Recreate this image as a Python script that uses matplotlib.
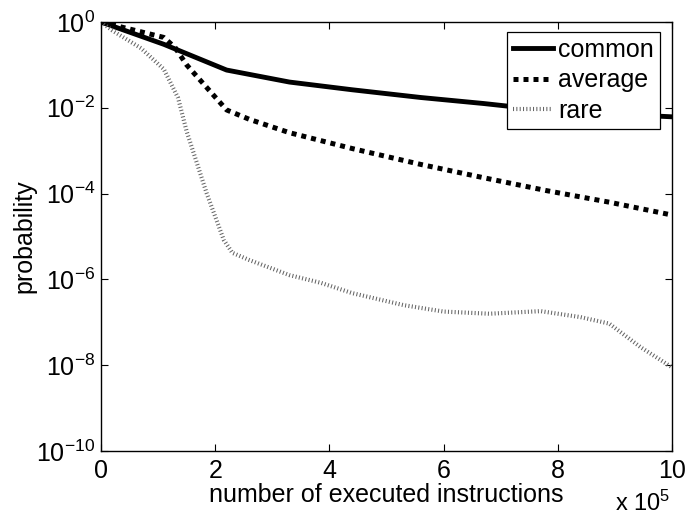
import numpy as np
import matplotlib
matplotlib.use("Agg")
import matplotlib.pyplot as plt
from matplotlib.ticker import NullLocator

plt.rcParams["font.family"] = ["Liberation Sans", "DejaVu Sans"]
plt.rcParams["mathtext.fontset"] = "custom"
plt.rcParams["mathtext.rm"] = "Liberation Sans"
plt.rcParams["mathtext.it"] = "Liberation Sans:italic"

# x values in units of 1e5 executed instructions, y as log10(probability)
common_x = [0, 1.1, 2.2, 3.3, 4.4, 5.6, 6.7, 7.8, 8.9, 10]
common_log = [0, -0.52, -1.12, -1.40, -1.58, -1.76, -1.90, -2.06, -2.14, -2.21]

average_x = [0, 1.1, 1.3, 1.5, 1.8, 2.0, 2.2, 2.6, 3.3, 4.4, 5.6, 6.7, 7.8, 8.9, 10]
average_log = [0, -0.36, -0.60, -1.00, -1.45, -1.75, -2.05, -2.27, -2.58, -2.95,
               -3.32, -3.63, -3.93, -4.20, -4.50]

rare_x = [0, 0.2, 0.7, 1.1, 1.35, 1.5, 1.85, 2.15, 2.3, 2.6, 3.3, 3.85, 4.4, 5.3,
          6.0, 6.8, 7.7, 8.4, 8.9, 9.45, 10]
rare_log = [0, -0.20, -0.61, -1.10, -1.77, -2.55, -3.99, -5.08, -5.38, -5.55, -5.90,
            -6.08, -6.32, -6.60, -6.75, -6.80, -6.74, -6.88, -7.03, -7.58, -8.05]

y_ticks = [1e0, 1e-2, 1e-4, 1e-6, 1e-8, 1e-10]
x_ticks = [0, 2, 4, 6, 8, 10]

fig = plt.figure(figsize=(6.87, 5.16), dpi=100)
ax = fig.add_axes([101 / 687, 1 - 451 / 516, 571 / 687, 429 / 516])

ax.plot(common_x, 10 ** np.array(common_log), color="black", linewidth=3.5,
        solid_joinstyle="round", label="common")
ax.plot(average_x, 10 ** np.array(average_log), color="black", linewidth=3.6,
        linestyle=(0, (1.0, 1.0)), dash_capstyle="butt", label="average")
ax.plot(rare_x, 10 ** np.array(rare_log), color="#666666", linewidth=3.0,
        linestyle=(0, (0.25, 0.55)), dash_capstyle="butt", label="rare")

ax.set_yscale("log")
ax.set_xlim(0, 10)
ax.set_ylim(1e-10, 1)
ax.set_xticks(x_ticks)
ax.set_yticks(y_ticks)
ax.yaxis.set_minor_locator(NullLocator())
ax.tick_params(direction="in", top=True, right=True, length=5, width=0.8,
               labelsize=18, pad=6)
ax.tick_params(axis="y", pad=4)
for s in ax.spines.values():
    s.set_linewidth(1.0)

ax.set_xlabel("number of executed instructions", fontsize=18, labelpad=0)
ax.set_ylabel("probability", fontsize=18, labelpad=0)
ax.text(0.9965, -0.14, r"x 10$^5$", transform=ax.transAxes, ha="right",
        va="baseline", fontsize=17)

leg = ax.legend(loc="upper right", bbox_to_anchor=(0.979, 0.977), borderaxespad=0,
                fontsize=18, fancybox=False, framealpha=1, edgecolor="black",
                handlelength=1.6, handletextpad=0.2, borderpad=0.25,
                labelspacing=0.25)
leg.get_frame().set_linewidth(0.9)

fig.savefig("out.png", dpi=100)
